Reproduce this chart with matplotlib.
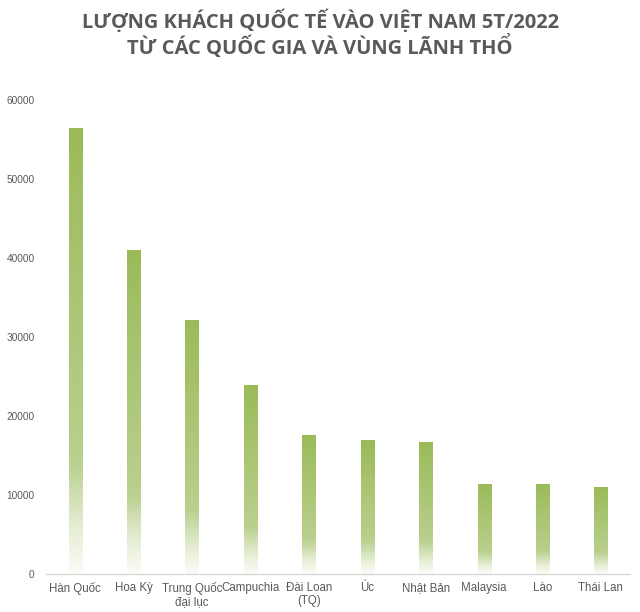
import numpy as np
import matplotlib.pyplot as plt
from matplotlib.colors import LinearSegmentedColormap

# luot khach 5 thang dau 2022
countries = ['Hàn Quốc', 'Hoa Kỳ', 'Trung Quốc\nđại lục', 'Campuchia', 'Đài Loan\n(TQ)',
             'Úc', 'Nhật Bản', 'Malaysia', 'Lào', 'Thái Lan']
visitors = [56400, 41000, 32100, 23900, 17500, 16900, 16600, 11400, 11300, 10900]
yticks = [0, 10000, 20000, 30000, 40000, 50000, 60000]

title = 'LƯỢNG KHÁCH QUỐC TẾ VÀO VIỆT NAM 5T/2022\nTỪ CÁC QUỐC GIA VÀ VÙNG LÃNH THỔ'

plt.rcParams['font.family'] = ['Liberation Sans', 'DejaVu Sans']

fig = plt.figure(figsize=(6.4, 6.12), dpi=100)
ax = fig.add_axes([0.0716, 0.0621, 0.913, 0.7737])

# top -> bottom gradient, excel style
cmap = LinearSegmentedColormap.from_list(
    'fade', [(0.0, '#9bbb59'), (0.75, '#b9d08e'), (0.9, '#e6eed5'), (1.0, '#fbfcf8')])
grad = np.linspace(0, 1, 256).reshape(-1, 1)

width = 0.223
for i, v in enumerate(visitors):
    ax.imshow(grad, cmap=cmap, aspect='auto', interpolation='bilinear',
              extent=(i - width / 2, i + width / 2, 0, v), origin='upper', zorder=2)

ax.set_xlim(-0.5, len(countries) - 0.5)
ax.set_ylim(0, 60000)
ax.set_xticks(range(len(countries)))
ax.set_xticklabels(countries, fontsize=8.3, color='#595959', linespacing=1.1)
ax.set_yticks(yticks)
ax.set_yticklabels([str(t) for t in yticks], fontsize=7.3, color='#595959')
ax.tick_params(length=0, pad=8)
ax.tick_params(axis='x', pad=6)

for s in ['top', 'right', 'left']:
    ax.spines[s].set_visible(False)
ax.spines['bottom'].set_color('#d9d9d9')
ax.spines['bottom'].set_linewidth(1.0)

fig.text(0.5, 0.984, title, ha='center', va='top', fontsize=14.5, fontweight='bold',
         color='#595959', family=['Open Sans', 'DejaVu Sans'], linespacing=1.12)

fig.savefig('out.png', dpi=100)
